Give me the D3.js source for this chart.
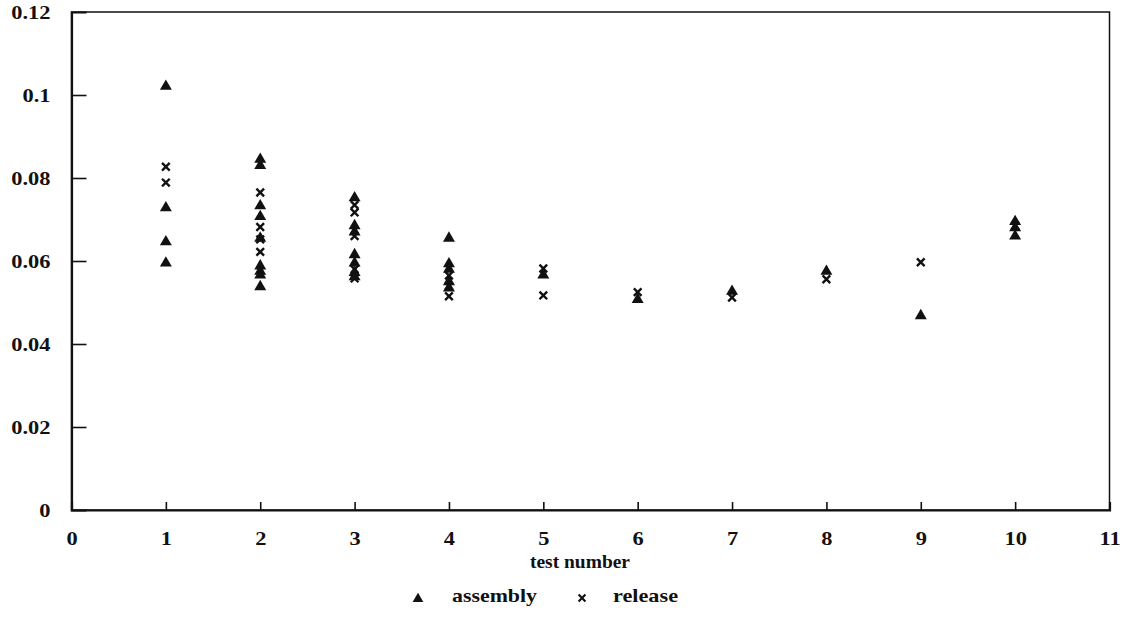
<!DOCTYPE html>
<html><head><meta charset="utf-8">
<script src="https://cdn.jsdelivr.net/npm/d3@7"></script>
<style>body{margin:0;background:#fff}</style>
</head><body><svg id="c" width="1129" height="622"></svg>
<script>
const xTicks = [0,1,2,3,4,5,6,7,8,9,10,11];
const yTicks = [0,0.02,0.04,0.06,0.08,0.1,0.12];
const yTickLabels = ["0","0.02","0.04","0.06","0.08","0.1","0.12"];
const assemblyTest = [1,1,1,1, 2,2,2,2,2,2,2,2,2, 3,3,3,3,3,3,3, 4,4,4,4,4, 5,6,7,8,9, 10,10,10];
const assemblyVal  = [0.1021,0.0728,0.0646,0.0595, 0.0845,0.083,0.0733,0.0707,0.0655,0.0588,0.0575,0.0566,0.0538, 0.0752,0.0685,0.067,0.0615,0.0595,0.0572,0.0562, 0.0655,0.0593,0.058,0.055,0.0535, 0.0566,0.0507,0.0527,0.0575,0.0468, 0.0695,0.068,0.066];
const releaseTest = [1,1, 2,2,2,2, 3,3,3,3,3, 4,4,4, 5,5, 6, 7, 8, 9, 10];
const releaseVal  = [0.0827,0.0789, 0.0765,0.0682,0.0652,0.0622, 0.0735,0.0717,0.066,0.058,0.0558, 0.0565,0.054,0.0515, 0.0582,0.0517, 0.0525, 0.0512, 0.0556, 0.0597, 0.0685];
const legendLabels = ["assembly","release"];
const xTitle = "test number";

const FF = 'Liberation Serif';
const svg = d3.select("#c");
const x = d3.scaleLinear().domain([0,11]).range([71.5,1109.5]);
const y = d3.scaleLinear().domain([0,0.12]).range([510,12]);

// frame
svg.append("rect").attr("x",x(0)).attr("y",y(0.12)).attr("width",x(11)-x(0)).attr("height",y(0)-y(0.12))
  .attr("fill","none").attr("stroke","#111").attr("stroke-width",1.5);
// axes
const xa = svg.append("g").attr("transform",`translate(0,${y(0)})`)
  .call(d3.axisBottom(x).tickValues(xTicks).tickSize(-8).tickPadding(22).tickFormat(d3.format("d")));
const ya = svg.append("g").attr("transform",`translate(${x(0)},0)`)
  .call(d3.axisLeft(y).tickValues(yTicks).tickSize(-15).tickPadding(21).tickFormat((d,i)=>yTickLabels[i]));
[xa,ya].forEach(g=>{
  g.select(".domain").attr("stroke","#111").attr("stroke-width",2.2);
  g.selectAll(".tick line").attr("stroke","#111").attr("stroke-width",1.6);
  g.selectAll(".tick text").style("font-family",FF).style("font-size","19px").style("font-weight","bold").attr("fill","#111")
    .each(function(){ const w=this.getComputedTextLength(); d3.select(this).attr("textLength",w*1.18).attr("lengthAdjust","spacingAndGlyphs"); });
});
xa.selectAll(".tick").filter(d=>d===0||d===11).select("line").remove();
ya.selectAll(".tick").filter(d=>d===0||d===0.12).select("line").remove();

svg.append("text").attr("x",530).attr("y",568).style("font-family",FF).style("font-size","18px").style("font-weight","bold").attr("fill","#111")
  .attr("textLength",100).attr("lengthAdjust","spacingAndGlyphs").text(xTitle);

const tri = d3.symbol().type(d3.symbolTriangle).size(62);
const cross = d3.symbol().type(d3.symbolX).size(40);

svg.append("g").selectAll("path").data(assemblyVal).join("path")
  .attr("d",tri).attr("fill","#111")
  .attr("transform",(d,i)=>`translate(${x(assemblyTest[i])},${y(d)})`);
svg.append("g").selectAll("path").data(releaseVal).join("path")
  .attr("d",cross).attr("fill","none").attr("stroke","#111").attr("stroke-width",2.4)
  .attr("transform",(d,i)=>`translate(${x(releaseTest[i])},${y(d)})`);

// legend
const lg = svg.append("g");
lg.append("path").attr("d",d3.symbol().type(d3.symbolTriangle).size(50)).attr("fill","#111").attr("transform","translate(418,599)");
lg.append("text").attr("x",452).attr("y",602).style("font-family",FF).style("font-size","19px").style("font-weight","bold").attr("fill","#111")
  .attr("textLength",85).attr("lengthAdjust","spacingAndGlyphs").text(legendLabels[0]);
lg.append("path").attr("d",d3.symbol().type(d3.symbolX).size(32)).attr("fill","none").attr("stroke","#111").attr("stroke-width",2.2).attr("transform","translate(582,598)");
lg.append("text").attr("x",613).attr("y",602).style("font-family",FF).style("font-size","19px").style("font-weight","bold").attr("fill","#111")
  .attr("textLength",65).attr("lengthAdjust","spacingAndGlyphs").text(legendLabels[1]);
</script></body></html>
